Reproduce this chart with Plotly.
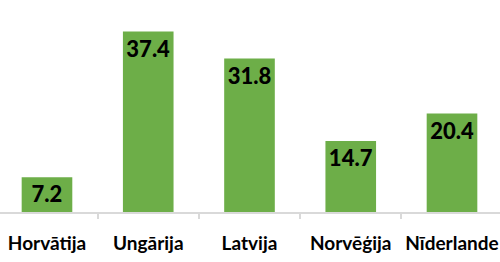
import plotly.graph_objects as go

categories = ["Horvātija", "Ungārija", "Latvija", "Norvēģija", "Nīderlande"]
values = [7.2, 37.4, 31.8, 14.7, 20.4]
labels = ["7.2", "37.4", "31.8", "14.7", "20.4"]

fig = go.Figure(go.Bar(
    x=categories, y=values, text=labels,
    textposition="inside", insidetextanchor="end",
    textfont=dict(family="Lato", size=22, color="#000000", weight=900),
    marker=dict(color="#6DAE48", line=dict(width=0)),
    width=0.5,
    cliponaxis=False,
))

fig.update_layout(
    width=500, height=262,
    margin=dict(l=0, r=0, t=19, b=50),
    paper_bgcolor="white", plot_bgcolor="white",
    showlegend=False,
    uniformtext=dict(mode=False),
    xaxis=dict(
        range=[-0.464, 4.474],
        showline=True, linecolor="#D9D9D9", linewidth=2,
        ticks="outside", tickson="boundaries", ticklen=5, tickcolor="#D9D9D9", tickwidth=2,
        tickfont=dict(family="Lato", size=19, color="#000000", weight="bold"),
        ticklabelstandoff=13,
        showgrid=False, zeroline=False, automargin=False,
    ),
    yaxis=dict(range=[0, 40], visible=False, showgrid=False, zeroline=False),
)

fig.write_html("out.html")
